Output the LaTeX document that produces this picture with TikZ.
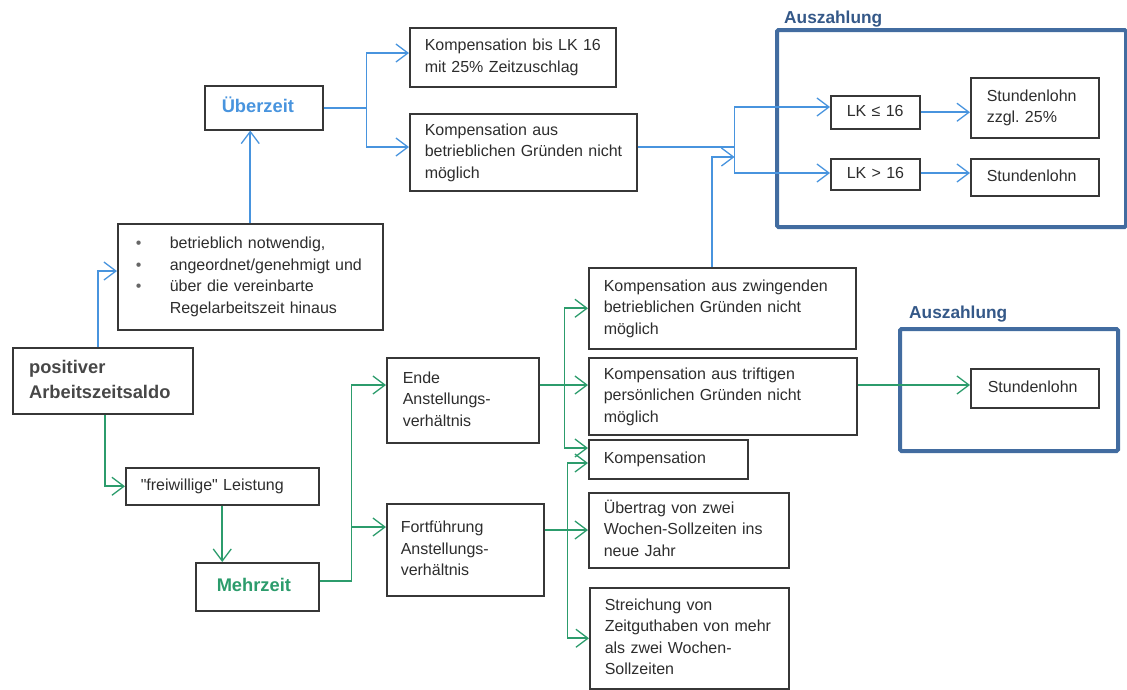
\documentclass[tikz,border=0pt]{standalone}
\usepackage{fontspec}
\setmainfont{Liberation Sans}
\usetikzlibrary{arrows.meta,calc}

\definecolor{ueberblue}{RGB}{72,148,222}
\definecolor{mehrgreen}{RGB}{44,156,108}
\definecolor{frameblue}{RGB}{66,108,160}
\definecolor{labelblue}{RGB}{52,88,136}
\definecolor{boxgray}{RGB}{55,55,55}
\definecolor{txtgray}{RGB}{45,45,45}

% lines of a box, kept on one line each
\newcommand{\boxlines}[1]{\begin{tabular}{@{}l@{}}#1\end{tabular}}
\newcommand{\bul}{\makebox[34pt][l]{\textcolor{black!60}{\textbullet}}}

\begin{document}
\frenchspacing
\begin{tikzpicture}[x=1pt,y=1pt,yscale=-1,xscale=1,
  box/.style={draw=boxgray, line width=1.5pt, anchor=north west, align=left, inner xsep=15pt, inner ysep=2pt, text=txtgray, font=\fontsize{16}{21.5}\selectfont},
  boldbox/.style={box, font=\fontsize{18.3}{25}\selectfont\bfseries},
  frame/.style={draw=frameblue, line width=4pt, anchor=north west, rounded corners=1.5pt},
  framelabel/.style={anchor=base west, inner sep=0pt, text=labelblue, font=\fontsize{17.3}{19}\selectfont\bfseries},
  bline/.style={draw=ueberblue, line width=1.8pt},
  gline/.style={draw=mehrgreen, line width=1.8pt},
  barrow/.style={bline, -{Straight Barb[length=12pt,width=18pt,line width=1.3pt]}},
  garrow/.style={gline, -{Straight Barb[length=12pt,width=18pt,line width=1.3pt]}}]
\useasboundingbox (0,0) rectangle (1127,689);

%Frames: Auszahlung
\node[frame, minimum width=349, minimum height=197] (aus1) at (775,28) {};
\node[framelabel] (auslab1) at (784,23) {Auszahlung};
\node[frame, minimum width=218, minimum height=122] (aus2) at (898,327) {};
\node[framelabel] (auslab2) at (909,318) {Auszahlung};

%Box: Start
\node[boldbox, line width=2.2pt, inner xsep=16pt, text=black!72, text width=148, minimum height=66] (pos) at (12,347) {\boxlines{positiver\\Arbeitszeitsaldo}};
\node[box, inner xsep=18pt, text width=229, minimum height=106] (crit) at (117,223) {\boxlines{\bul betrieblich notwendig,\\\bul angeordnet/genehmigt und\\\bul über die vereinbarte\\\hspace*{34pt}Regelarbeitszeit hinaus}};

%Boxes: Überzeit
\node[boldbox, inner xsep=17pt, text=ueberblue, text width=84, minimum height=44] (ueber) at (204,85) {\boxlines{Überzeit}};
\node[box, text width=176, minimum height=59] (kbis) at (409,27) {\boxlines{Kompensation bis LK 16\\mit 25\% Zeitzuschlag}};
\node[box, text width=197, minimum height=77] (kbetr) at (409,113) {\boxlines{Kompensation aus\\betrieblichen Gründen nicht\\möglich}};
\node[box, inner xsep=16pt, text width=57, minimum height=33] (lkle) at (830,95) {\boxlines{LK ≤ 16}};
\node[box, inner xsep=16pt, text width=96, minimum height=60] (szz) at (970,77) {\boxlines{Stundenlohn\\zzgl. 25\%}};
\node[box, inner xsep=16pt, text width=57, minimum height=31] (lkgt) at (830,158) {\boxlines{LK > 16}};
\node[box, inner xsep=16pt, text width=96, minimum height=37] (sl1) at (970,158) {\boxlines{Stundenlohn}};

%Boxes: Mehrzeit
\node[box, text width=163, minimum height=37] (frei) at (125,467) {\boxlines{\textquotedbl freiwillige\textquotedbl{} Leistung}};
\node[boldbox, inner xsep=21pt, text=mehrgreen, text width=81, minimum height=48] (mehr) at (195,562) {\boxlines{Mehrzeit}};
\node[box, inner xsep=16pt, text width=120, minimum height=85] (ende) at (386,357) {\boxlines{Ende\\Anstellungs-\\verhältnis}};
\node[box, inner xsep=14pt, text width=129, minimum height=92] (fort) at (386,503) {\boxlines{Fortführung\\Anstellungs-\\verhältnis}};
\node[box, text width=237, minimum height=81] (kzw) at (588,267) {\boxlines{Kompensation aus zwingenden\\betrieblichen Gründen nicht\\möglich}};
\node[box, text width=238, minimum height=77] (ktr) at (588,357) {\boxlines{Kompensation aus triftigen\\persönlichen Gründen nicht\\möglich}};
\node[box, text width=129, minimum height=39] (komp) at (588,439) {\boxlines{Kompensation}};
\node[box, text width=170, minimum height=75] (uebt) at (588,492) {\boxlines{Übertrag von zwei\\Wochen-Sollzeiten ins\\neue Jahr}};
\node[box, text width=169, minimum height=101] (streich) at (589,587) {\boxlines{Streichung von\\Zeitguthaben von mehr\\als zwei Wochen-\\Sollzeiten}};
\node[box, inner xsep=17pt, text width=94, minimum height=39] (sl2) at (970,368) {\boxlines{Stundenlohn}};

%Connectors: blue
\draw[barrow] ($(pos.north)+(-5,0)$) |- ($(crit.north west)+(0,48)$);
\draw[barrow] (crit.north) -- (crit.north |- ueber.south);
\coordinate (jueber) at ($(ueber.east)+(43,0)$);
\draw[bline] (ueber.east) -- (jueber);
\draw[barrow] (jueber) |- ($(kbis.north west)+(0,26)$);
\draw[barrow] (jueber) |- ($(kbetr.north west)+(0,34)$);
\coordinate (jaus) at ($(kbetr.north east)+(97,34)$);
\draw[bline] ($(kbetr.north east)+(0,34)$) -- (jaus);
\draw[barrow] (jaus) |- ($(lkle.north west)+(0,12)$);
\draw[barrow] (jaus) |- ($(lkgt.north west)+(0,15)$);
\coordinate (jin) at ($(jaus)+(0,10)$);
\draw[barrow] ($(kzw.north west)+(124,0)$) |- (jin);
\draw[barrow] (lkle.east) -- (lkle.east -| szz.west);
\draw[barrow] ($(lkgt.north east)+(0,15)$) -- ($(sl1.north west)+(0,15)$);

%Connectors: green
\draw[garrow] ($(pos.south)+(2,0)$) |- (frei.west);
\draw[garrow] (frei.south) -- (frei.south |- mehr.north);
\coordinate (jmehr) at ($(mehr.east)+(32,-6)$);
\draw[gline] ($(mehr.east)+(0,-6)$) -- (jmehr);
\draw[garrow] (jmehr) |- ($(ende.north west)+(0,28)$);
\draw[garrow] (jmehr) |- ($(fort.north west)+(0,24)$);
\coordinate (jende) at ($(ende.north east)+(25,28)$);
\draw[gline] ($(ende.north east)+(0,28)$) -- (jende);
\draw[garrow] (jende) |- (kzw.west);
\draw[garrow] (jende) -- ($(ktr.north west)+(0,28)$);
\draw[garrow] (jende) |- ($(komp.north west)+(0,9)$);
\coordinate (jfort) at ($(fort.north east)+(23,27)$);
\draw[gline] ($(fort.north east)+(0,27)$) -- (jfort);
\draw[garrow] (jfort) |- ($(komp.north west)+(0,24)$);
\draw[garrow] (jfort) -- (jfort -| uebt.west);
\draw[garrow] (jfort) |- (streich.west);
\draw[garrow] ($(ktr.north east)+(0,28)$) -- ($(sl2.north west)+(0,17)$);

\end{tikzpicture}
\end{document}
